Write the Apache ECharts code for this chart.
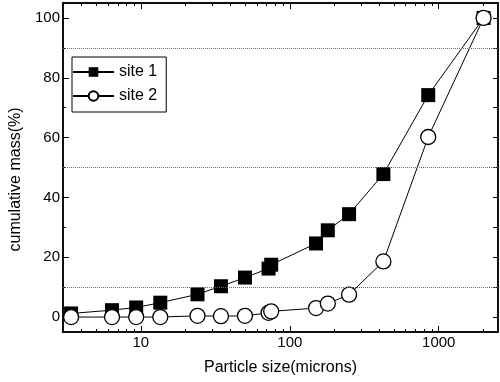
<!DOCTYPE html>
<html>
<head>
<meta charset="utf-8">
<script src="https://cdn.jsdelivr.net/npm/echarts@6/dist/echarts.min.js"></script>
<style>
  html, body { margin: 0; padding: 0; background: #fff; }
  #chart { width: 500px; height: 382px; }
</style>
</head>
<body>
<div id="chart"></div>
<script>
// ---- data ----
const particleSizes = [3.4, 6.4, 9.3, 13.5, 24, 34.5, 50, 72, 75, 150, 180, 250, 425, 850, 2000];
const site1 = [1.2, 2.3, 3.2, 4.8, 7.6, 10.3, 13.2, 16.2, 17.5, 24.6, 29.0, 34.4, 47.8, 74.2, 100];
const site2 = [0, 0, 0, 0, 0.4, 0.3, 0.4, 1.4, 1.9, 3.0, 4.5, 7.5, 18.6, 60.2, 100];
const seriesNames = ['site 1', 'site 2'];
const xMajorTicks = [10, 100, 1000];
const xMinorTicks = [3, 4, 5, 6, 7, 8, 9, 20, 30, 40, 50, 60, 70, 80, 90,
                     200, 300, 400, 500, 600, 700, 800, 900, 2000];
const yMajorTicks = [0, 20, 40, 60, 80, 100];
const yMinorTicks = [10, 30, 50, 70, 90];
const refLines = [10, 50, 90];
const xRange = [3, 2500];
const yRange = [-5, 105];
const xTitle = 'Particle size(microns)';
const yTitle = 'cumulative mass(%)';

// ---- build ----
const lg = v => Math.log10(v);
const xMin = lg(xRange[0]), xMax = lg(xRange[1]);
const FONT = 'Liberation Sans, Arial, sans-serif';
const AX = '#000';

function xAxisDef(position, ticks, len, withLabels) {
  return {
    type: 'value', position: position, min: xMin, max: xMax, gridIndex: 0,
    axisLine: { show: true, onZero: false, lineStyle: { color: AX, width: 1.5 } },
    axisTick: { show: true, inside: true, length: len, customValues: ticks.map(lg),
                lineStyle: { color: AX, width: 1 } },
    axisLabel: withLabels ? {
      show: true, customValues: ticks.map(lg), margin: 3,
      formatter: v => String(Math.round(Math.pow(10, v))),
      fontSize: 15, color: '#000', fontFamily: FONT
    } : { show: false },
    splitLine: { show: false }
  };
}
function yAxisDef(position, ticks, len, withLabels) {
  return {
    type: 'value', position: position, min: yRange[0], max: yRange[1], gridIndex: 0,
    axisLine: { show: true, onZero: false, lineStyle: { color: AX, width: 1.5 } },
    axisTick: { show: true, inside: true, length: len, customValues: ticks,
                lineStyle: { color: AX, width: 1 } },
    axisLabel: withLabels ? {
      show: true, customValues: ticks, margin: 3,
      fontSize: 15, color: '#000', fontFamily: FONT
    } : { show: false },
    splitLine: { show: false }
  };
}

const xBottom = xAxisDef('bottom', xMajorTicks, 6, true);
xBottom.name = xTitle;
xBottom.nameLocation = 'middle';
xBottom.nameGap = 28;
xBottom.nameTextStyle = { fontSize: 16, color: '#000', fontFamily: FONT };

const yLeft = yAxisDef('left', yMajorTicks, 6, true);
yLeft.name = yTitle;
yLeft.nameLocation = 'middle';
yLeft.nameRotate = 90;
yLeft.nameGap = 36;
yLeft.nameTextStyle = { fontSize: 16, color: '#000', fontFamily: FONT, padding: [0, 24, 0, 0] };

const toPairs = vals => particleSizes.map((s, i) => [lg(s), vals[i]]);

const option = {
  animation: false,
  backgroundColor: '#fff',
  grid: { left: 63, right: 2, top: 3, bottom: 50, containLabel: false, outerBoundsMode: 'none' },
  legend: {
    data: seriesNames,
    orient: 'vertical',
    left: 72, top: 57,
    itemWidth: 41, itemHeight: 12, itemGap: 8,
    padding: [7, 9, 8, 0],
    borderColor: '#000', borderWidth: 1, borderRadius: 0,
    backgroundColor: '#fff',
    textStyle: { fontSize: 16, color: '#000', fontFamily: FONT }
  },
  xAxis: [
    xBottom,
    xAxisDef('bottom', xMinorTicks, 3, false),
    xAxisDef('top', xMajorTicks, 6, false),
    xAxisDef('top', xMinorTicks, 3, false)
  ],
  yAxis: [
    yLeft,
    yAxisDef('left', yMinorTicks, 3, false),
    yAxisDef('right', yMajorTicks, 5, false),
    yAxisDef('right', yMinorTicks, 5, false)
  ],
  series: [
    {
      name: seriesNames[0], type: 'line', xAxisIndex: 0, yAxisIndex: 0,
      data: toPairs(site1),
      symbol: 'rect', symbolSize: 14,
      itemStyle: { color: '#000', borderColor: '#000', borderWidth: 0 },
      lineStyle: { color: '#000', width: 1 },
      markLine: {
        silent: true, symbol: ['none', 'none'], animation: false,
        label: { show: false },
        lineStyle: { color: '#666', width: 1, type: [1, 1] },
        data: refLines.map(v => ({ yAxis: v }))
      },
      z: 3
    },
    {
      name: seriesNames[1], type: 'line', xAxisIndex: 0, yAxisIndex: 0,
      data: toPairs(site2),
      symbol: 'circle', symbolSize: 15,
      itemStyle: { color: '#fff', borderColor: '#000', borderWidth: 1.3 },
      lineStyle: { color: '#000', width: 1 },
      z: 4
    }
  ]
};

const chart = echarts.init(document.getElementById('chart'), null, { renderer: 'canvas' });
chart.setOption(option);
</script>
</body>
</html>
